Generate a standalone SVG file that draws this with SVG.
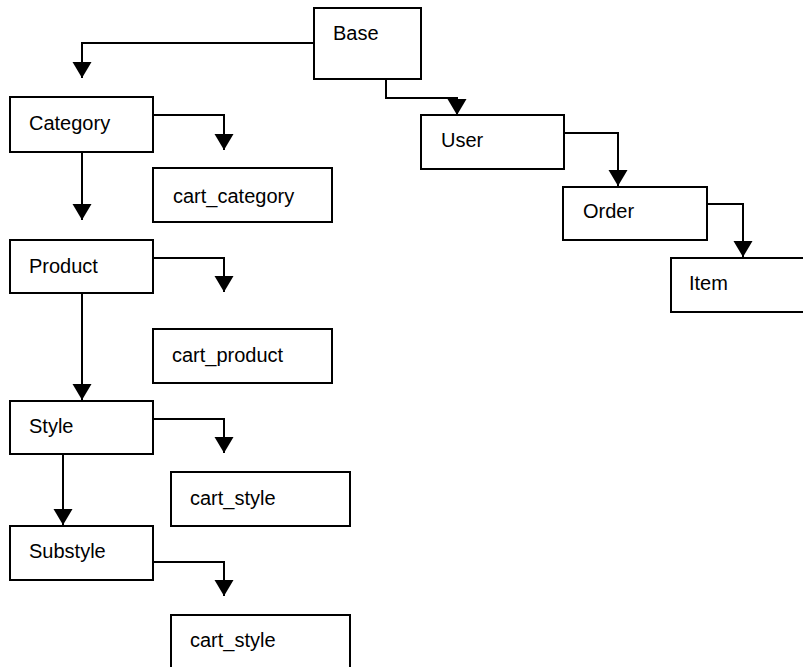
<svg xmlns="http://www.w3.org/2000/svg" width="803" height="667" viewBox="0 0 803 667">
<defs>
<style>
.box{fill:#fff;stroke:#000;stroke-width:2}
.lbl{font-family:"Liberation Sans",Arial,sans-serif;font-size:20px;fill:#000}
.con{fill:none;stroke:#000;stroke-width:2}
</style>
<marker id="arr" markerUnits="userSpaceOnUse" markerWidth="17" markerHeight="20" refX="16" refY="9.5" orient="auto" viewBox="0 0 17 20">
<path d="M0,0 L16,9.5 L0,19 Z" fill="#000"/>
</marker>
</defs>
<rect width="803" height="667" fill="#fff"/>
<g id="connectors">
<path class="con" d="M314,43 H82 V78" marker-end="url(#arr)"/>
<path class="con" d="M386,79 V98 H457 V115" marker-end="url(#arr)"/>
<path class="con" d="M153,115 H224 V150" marker-end="url(#arr)"/>
<path class="con" d="M82,152 V220" marker-end="url(#arr)"/>
<path class="con" d="M564,133 H618 V186" marker-end="url(#arr)"/>
<path class="con" d="M707,204 H743 V257" marker-end="url(#arr)"/>
<path class="con" d="M153,258 H224 V292" marker-end="url(#arr)"/>
<path class="con" d="M82,293 V400" marker-end="url(#arr)"/>
<path class="con" d="M153,419 H224 V453" marker-end="url(#arr)"/>
<path class="con" d="M63,454 V525" marker-end="url(#arr)"/>
<path class="con" d="M153,562 H224 V596" marker-end="url(#arr)"/>
</g>
<g id="base"><rect class="box" x="314" y="8" width="107" height="71"/><text class="lbl" x="333" y="40">Base</text></g>
<g id="category"><rect class="box" x="10" y="97" width="143" height="55"/><text class="lbl" x="29" y="130">Category</text></g>
<g id="cart_category"><rect class="box" x="153" y="168" width="179" height="54"/><text class="lbl" x="173" y="203">cart_category</text></g>
<g id="user"><rect class="box" x="421" y="115" width="143" height="54"/><text class="lbl" x="441" y="147">User</text></g>
<g id="order"><rect class="box" x="563" y="187" width="144" height="53"/><text class="lbl" x="583" y="218">Order</text></g>
<g id="item"><rect class="box" x="671" y="258" width="160" height="54"/><text class="lbl" x="689" y="290">Item</text></g>
<g id="product"><rect class="box" x="10" y="240" width="143" height="53"/><text class="lbl" x="29" y="273">Product</text></g>
<g id="cart_product"><rect class="box" x="153" y="329" width="179" height="54"/><text class="lbl" x="172" y="362">cart_product</text></g>
<g id="style"><rect class="box" x="10" y="401" width="143" height="53"/><text class="lbl" x="29" y="433">Style</text></g>
<g id="cart_style_1"><rect class="box" x="171" y="472" width="179" height="54"/><text class="lbl" x="190" y="505">cart_style</text></g>
<g id="substyle"><rect class="box" x="10" y="526" width="143" height="54"/><text class="lbl" x="29" y="558">Substyle</text></g>
<g id="cart_style_2"><rect class="box" x="171" y="615" width="179" height="70"/><text class="lbl" x="190" y="647">cart_style</text></g>
</svg>
